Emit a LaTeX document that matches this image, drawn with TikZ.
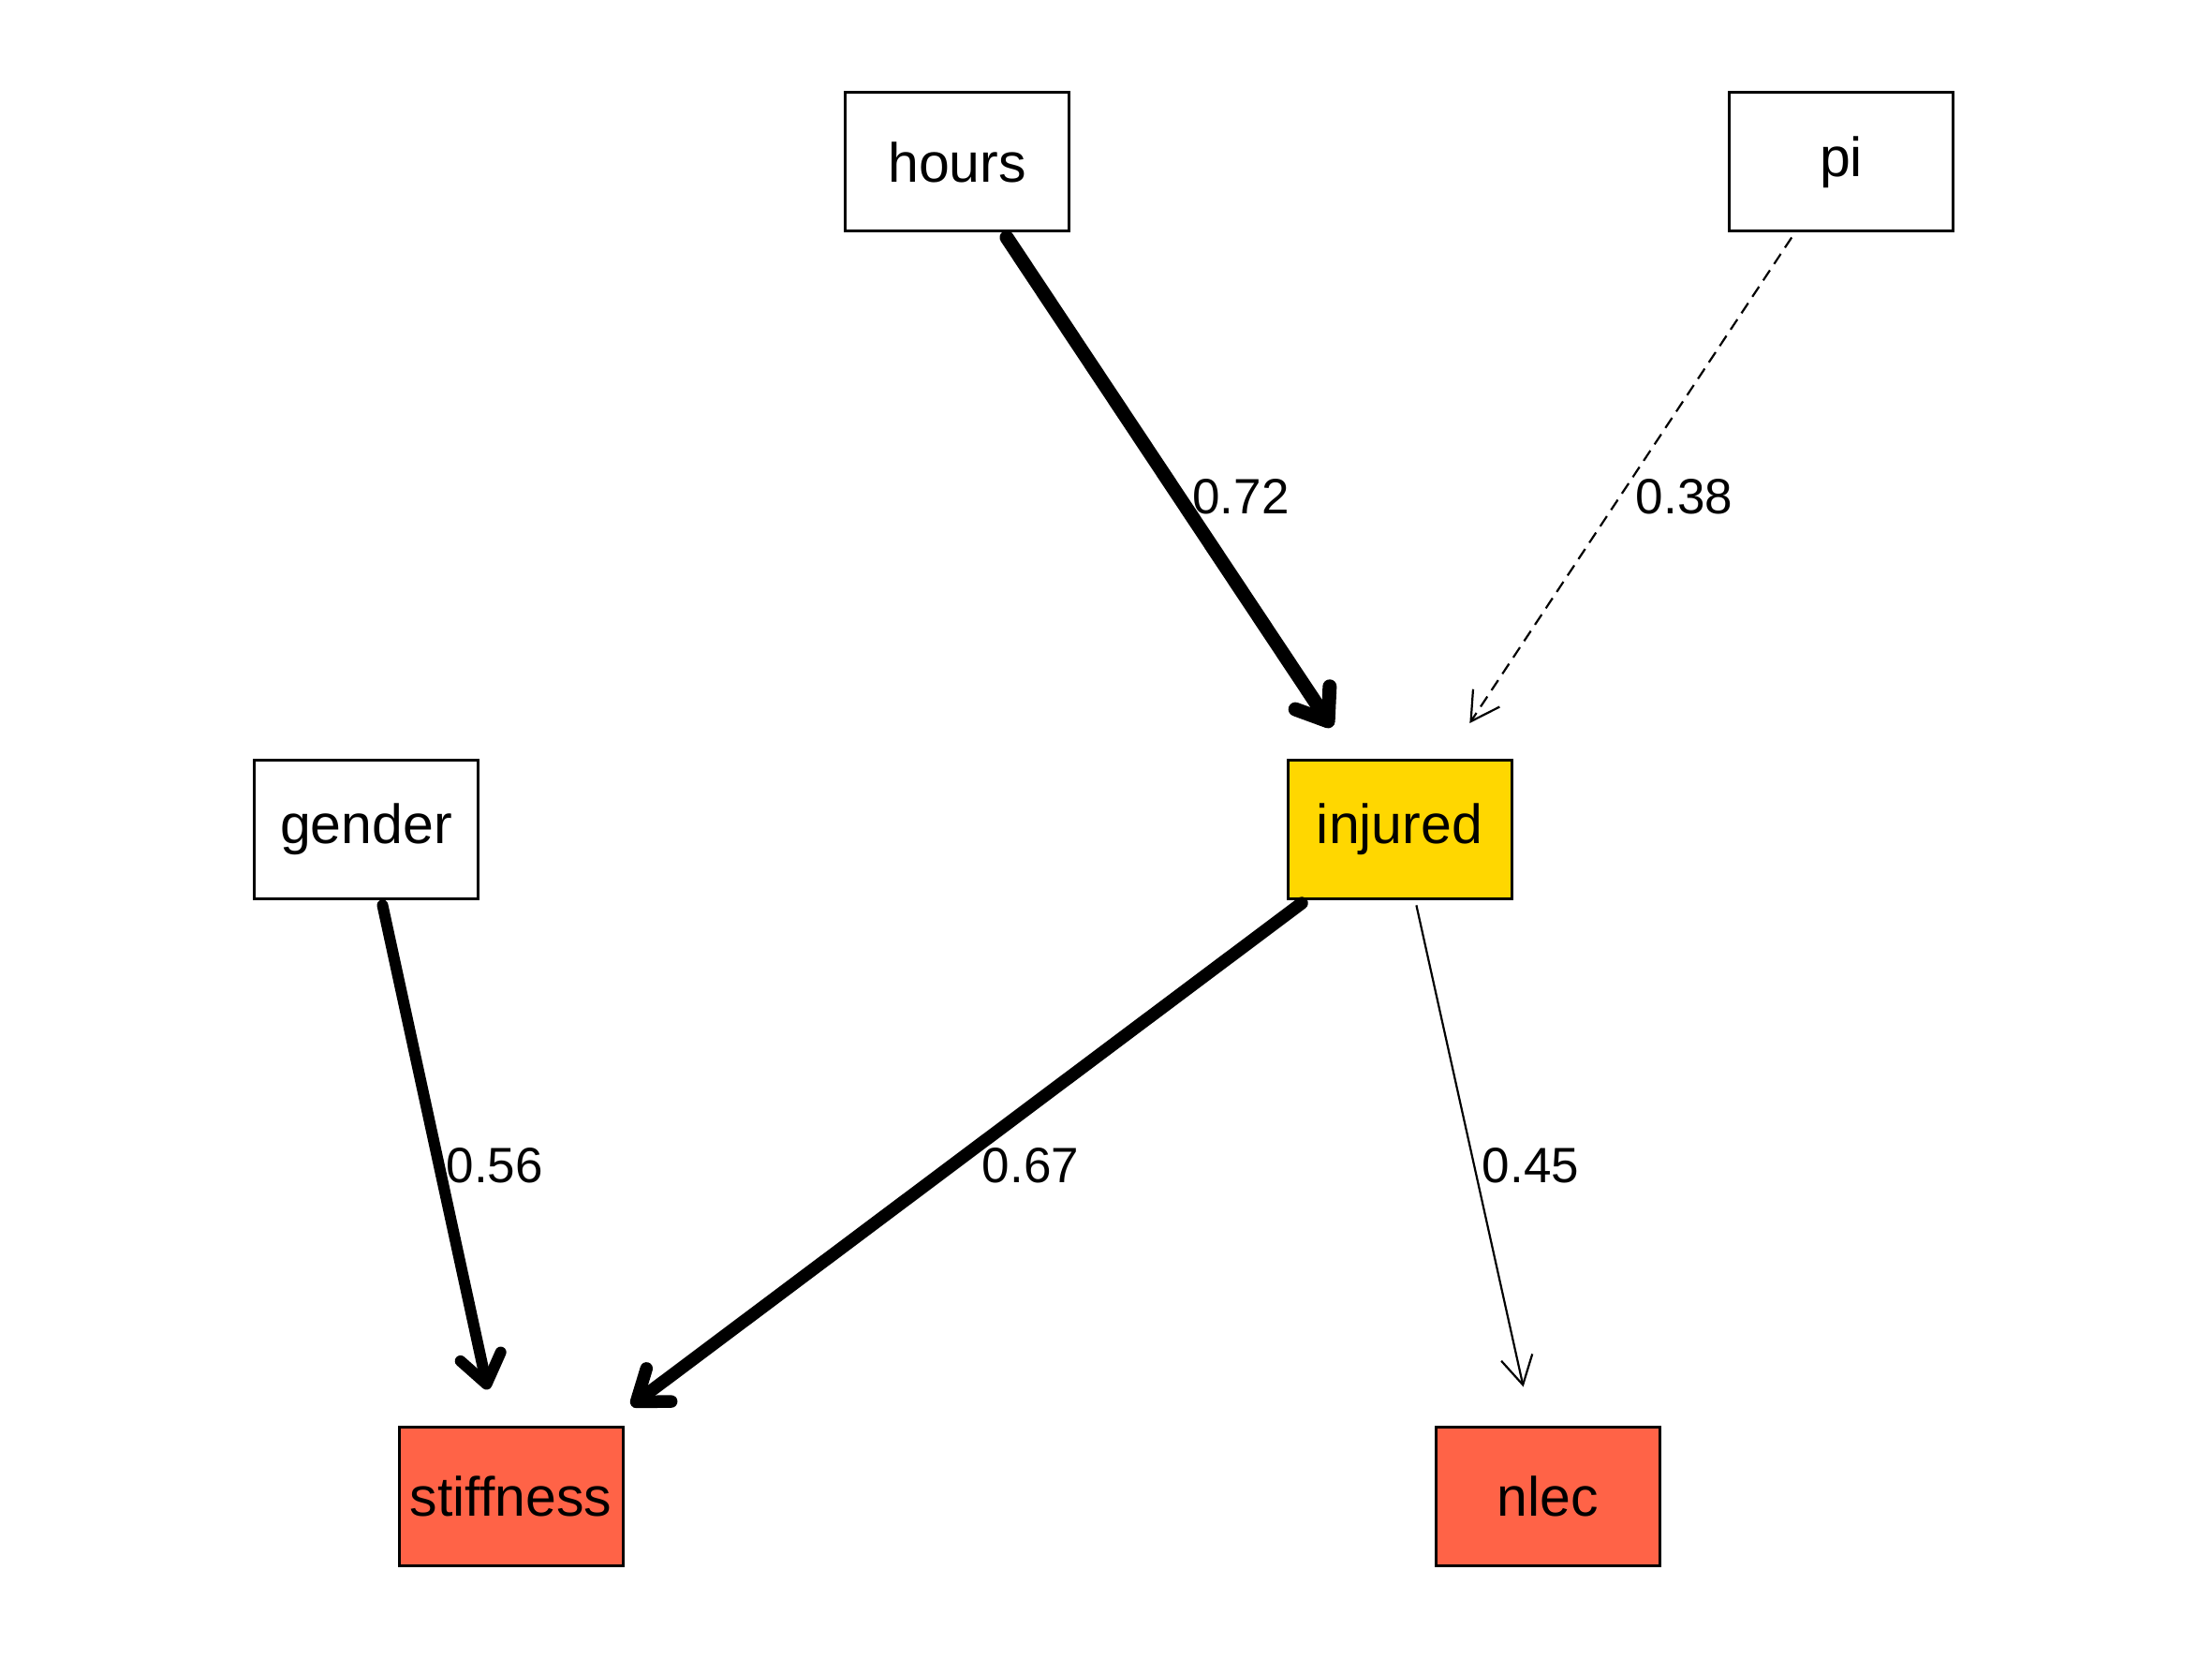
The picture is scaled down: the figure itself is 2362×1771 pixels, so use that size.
\documentclass[tikz,border=0pt]{standalone}
\usepackage{fontspec}
\setmainfont{Liberation Sans}
\usetikzlibrary{arrows.meta}
\definecolor{goldfill}{HTML}{FFD700}
\definecolor{tomatofill}{HTML}{FF6347}
\begin{document}
\begin{tikzpicture}[x=1pt,y=-1pt,
  box/.style={draw=black, line width=3pt, minimum width=239pt, minimum height=148pt,
    inner sep=0pt, font=\fontsize{59}{61}\selectfont},
  lbl/.style={font=\fontsize{53}{55}\selectfont, anchor=base, inner sep=0pt},
  heavyarrow/.style={line cap=round, shorten <=6pt,
    -{Straight Barb[length=30pt,width=44pt,round]}},
  lightarrow/.style={line width=2.2pt, shorten <=6pt,
    -{Straight Barb[length=30pt,width=34pt]}},
]
\useasboundingbox (0,0) rectangle (2362,1771);
\fill[white] (0,0) rectangle (2362,1771);

\node[box] (hours) at (1022,173) {hours};
\node[box] (pi) at (1966,173) {pi};
\node[box] (gender) at (391,885) {gender};
\node[box, fill=goldfill] (injured) at (1494.5,885) {injured};
\node[box, fill=tomatofill] (stiffness) at (545.5,1597) {stiffness};
\node[box, fill=tomatofill] (nlec) at (1652.5,1597) {nlec};

\draw[heavyarrow, line width=15pt, shorten >=40pt] (hours) --
  node[lbl, xshift=67pt, yshift=-19pt] {0.72} (injured);
\draw[lightarrow, dash pattern=on 13pt off 8pt, shorten >=45pt] (pi) --
  node[lbl, xshift=68pt, yshift=-19pt] {0.38} (injured);
\draw[heavyarrow, line width=12pt, shorten >=39pt] (gender) --
  node[lbl, xshift=60pt, yshift=-21pt] {0.56} (stiffness);
\draw[heavyarrow, line width=13.5pt, shorten >=35pt] (injured) --
  node[lbl, xshift=80pt, yshift=-21pt] {0.67} (stiffness);
\draw[lightarrow, shorten >=42pt] (injured) --
  node[lbl, xshift=61pt, yshift=-21pt] {0.45} (nlec);
\end{tikzpicture}
\end{document}
